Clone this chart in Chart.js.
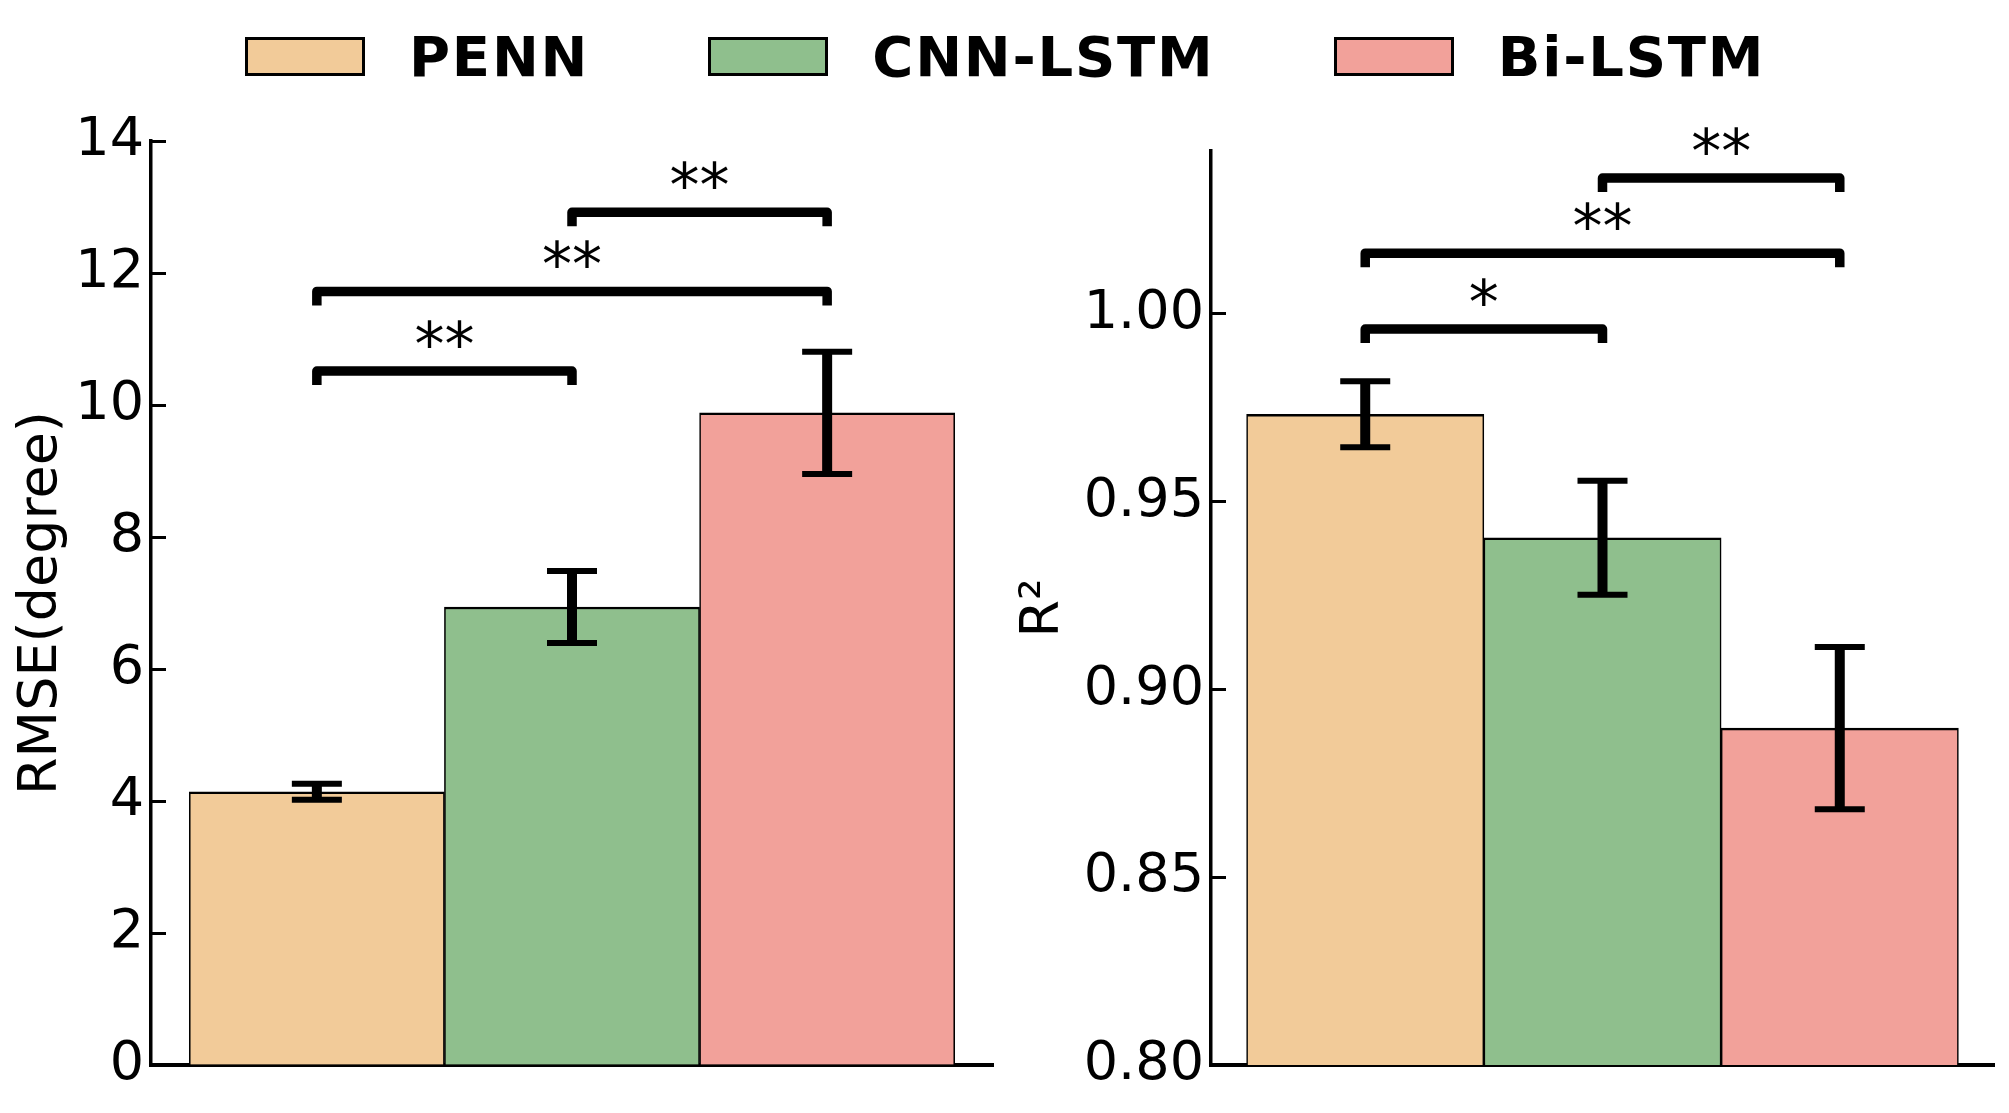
<!DOCTYPE html>
<html>
<head>
<meta charset="utf-8">
<script src="https://cdn.jsdelivr.net/npm/chart.js@4.4.0/dist/chart.umd.min.js"></script>
<style>
html,body{margin:0;padding:0;background:#fff;width:2009px;height:1113px;overflow:hidden;}
#c1{position:absolute;left:0;top:0;}
#c2{position:absolute;left:1000px;top:0;}
#legend{position:absolute;left:245px;top:37px;display:flex;align-items:center;font-family:'DejaVu Sans';font-weight:bold;font-size:56px;letter-spacing:1.8px;color:#000;white-space:nowrap;}
.sw{width:114px;height:33px;border:3px solid #000;margin-right:44px;flex:none;}
.lb{line-height:39px;margin-right:119px;}
</style>
</head>
<body>
<canvas id="c1" width="1000" height="1113"></canvas>
<canvas id="c2" width="1009" height="1113"></canvas>
<div id="legend"></div>
<script>
// ---------- data ----------
const models = ['PENN', 'CNN-LSTM', 'Bi-LSTM'];
const modelColors = ['#F2CB99', '#8FBF8D', '#F2A19A'];

const rmseMean = [4.14, 6.94, 9.88];
const rmseErr  = [0.12, 0.545, 0.925];
const rmseAxis = [0, 14, 2];            // min, max, step
const rmseSigPairs  = [[0, 1], [0, 2], [1, 2]];
const rmseSigLevels = [10.515, 11.72, 12.92];
const rmseSigLabels = ['**', '**', '**'];

const r2Mean = [0.9733, 0.9404, 0.8897];
const r2Err  = [0.0088, 0.0152, 0.0216];
const r2Axis = [0.80, 1.0434, 0.05];     // min, max, step
const r2SigPairs  = [[0, 1], [0, 2], [1, 2]];
const r2SigLevels = [0.9960, 1.0162, 1.0362];
const r2SigLabels = ['*', '**', '**'];

// ---------- legend (HTML text) ----------
const leg = document.getElementById('legend');
models.forEach((m, i) => {
  const sw = document.createElement('div');
  sw.className = 'sw';
  sw.style.background = modelColors[i];
  const lb = document.createElement('span');
  lb.className = 'lb';
  lb.textContent = m;
  leg.appendChild(sw);
  leg.appendChild(lb);
});

// ---------- annotation plugin (error bars + significance brackets) ----------
const annot = {
  id: 'annot',
  afterDraw(chart, args, o) {
    const ctx = chart.ctx;
    const xs = chart.scales.x, ys = chart.scales.y;
    ctx.save();
    ctx.strokeStyle = '#000';
    ctx.fillStyle = '#000';
    // error bars
    o.mean.forEach((m, i) => {
      const px = xs.getPixelForValue(i);
      const yt = ys.getPixelForValue(m + o.err[i]);
      const yb = ys.getPixelForValue(m - o.err[i]);
      ctx.lineCap = 'butt';
      ctx.lineWidth = 10;
      ctx.beginPath(); ctx.moveTo(px, yt); ctx.lineTo(px, yb); ctx.stroke();
      ctx.lineWidth = 6;
      ctx.beginPath();
      ctx.moveTo(px - 25, yt); ctx.lineTo(px + 25, yt);
      ctx.moveTo(px - 25, yb); ctx.lineTo(px + 25, yb);
      ctx.stroke();
    });
    // brackets
    ctx.font = '60px "DejaVu Sans"';
    ctx.textAlign = 'center';
    ctx.textBaseline = 'alphabetic';
    o.pairs.forEach((p, k) => {
      const x1 = xs.getPixelForValue(p[0]);
      const x2 = xs.getPixelForValue(p[1]);
      const yy = ys.getPixelForValue(o.levels[k]);
      ctx.lineWidth = 9.5;
      ctx.lineJoin = 'round';
      ctx.lineCap = 'butt';
      ctx.beginPath();
      ctx.moveTo(x1, yy + 14);
      ctx.lineTo(x1, yy);
      ctx.lineTo(x2, yy);
      ctx.lineTo(x2, yy + 14);
      ctx.stroke();
      ctx.fillText(o.labels[k], (x1 + x2) / 2, yy - 6);
    });
    ctx.restore();
  }
};

const tickFont = {family: 'DejaVu Sans', size: 54};

function makeChart(canvasId, mean, err, axis, pairs, levels, labels, title, yWidth, pad, titlePad, fmt) {
  return new Chart(document.getElementById(canvasId), {
    type: 'bar',
    data: {
      datasets: [{
        data: mean.map((v, i) => ({x: i, y: v})),
        backgroundColor: modelColors,
        borderColor: '#000',
        borderWidth: {top: 2.5, left: 1.6, right: 1.6, bottom: 0},
        barPercentage: 1,
        categoryPercentage: 1
      }]
    },
    options: {
      responsive: false,
      animation: false,
      devicePixelRatio: 1,
      layout: {padding: pad},
      plugins: {
        legend: {display: false},
        tooltip: {enabled: false},
        annot: {mean: mean, err: err, pairs: pairs, levels: levels, labels: labels}
      },
      scales: {
        x: {
          type: 'linear',
          min: -0.65,
          max: 2.65,
          offset: false,
          z: 1,
          ticks: {display: false, stepSize: 1, includeBounds: false},
          grid: {display: false},
          border: {display: true, color: '#000', width: 4},
          afterFit: s => { s.height = 48; }
        },
        y: {
          type: 'linear',
          min: axis[0],
          max: axis[1],
          ticks: {
            stepSize: axis[2],
            includeBounds: false,
            font: tickFont,
            color: '#000',
            padding: 22,
            callback: fmt
          },
          grid: {
            display: true,
            drawOnChartArea: false,
            drawTicks: true,
            tickLength: -15,
            tickWidth: 3,
            tickColor: '#000'
          },
          border: {display: true, color: '#000', width: 3.5},
          title: {
            display: true,
            text: title,
            color: '#000',
            font: tickFont,
            padding: {top: titlePad, bottom: 0}
          },
          afterFit: s => { s.width = yWidth; s.paddingTop = 0; s.paddingBottom = 0; }
        }
      }
    },
    plugins: [annot]
  });
}

makeChart('c1', rmseMean, rmseErr, rmseAxis, rmseSigPairs, rmseSigLevels, rmseSigLabels,
  'RMSE(degree)', 151, {top: 141, right: 7, left: 0, bottom: 0}, 10, v => String(v));
makeChart('c2', r2Mean, r2Err, r2Axis, r2SigPairs, r2SigLevels, r2SigLabels,
  'R²', 211, {top: 151, right: 15, left: 0, bottom: 0}, 12, v => v.toFixed(2));
</script>
</body>
</html>
